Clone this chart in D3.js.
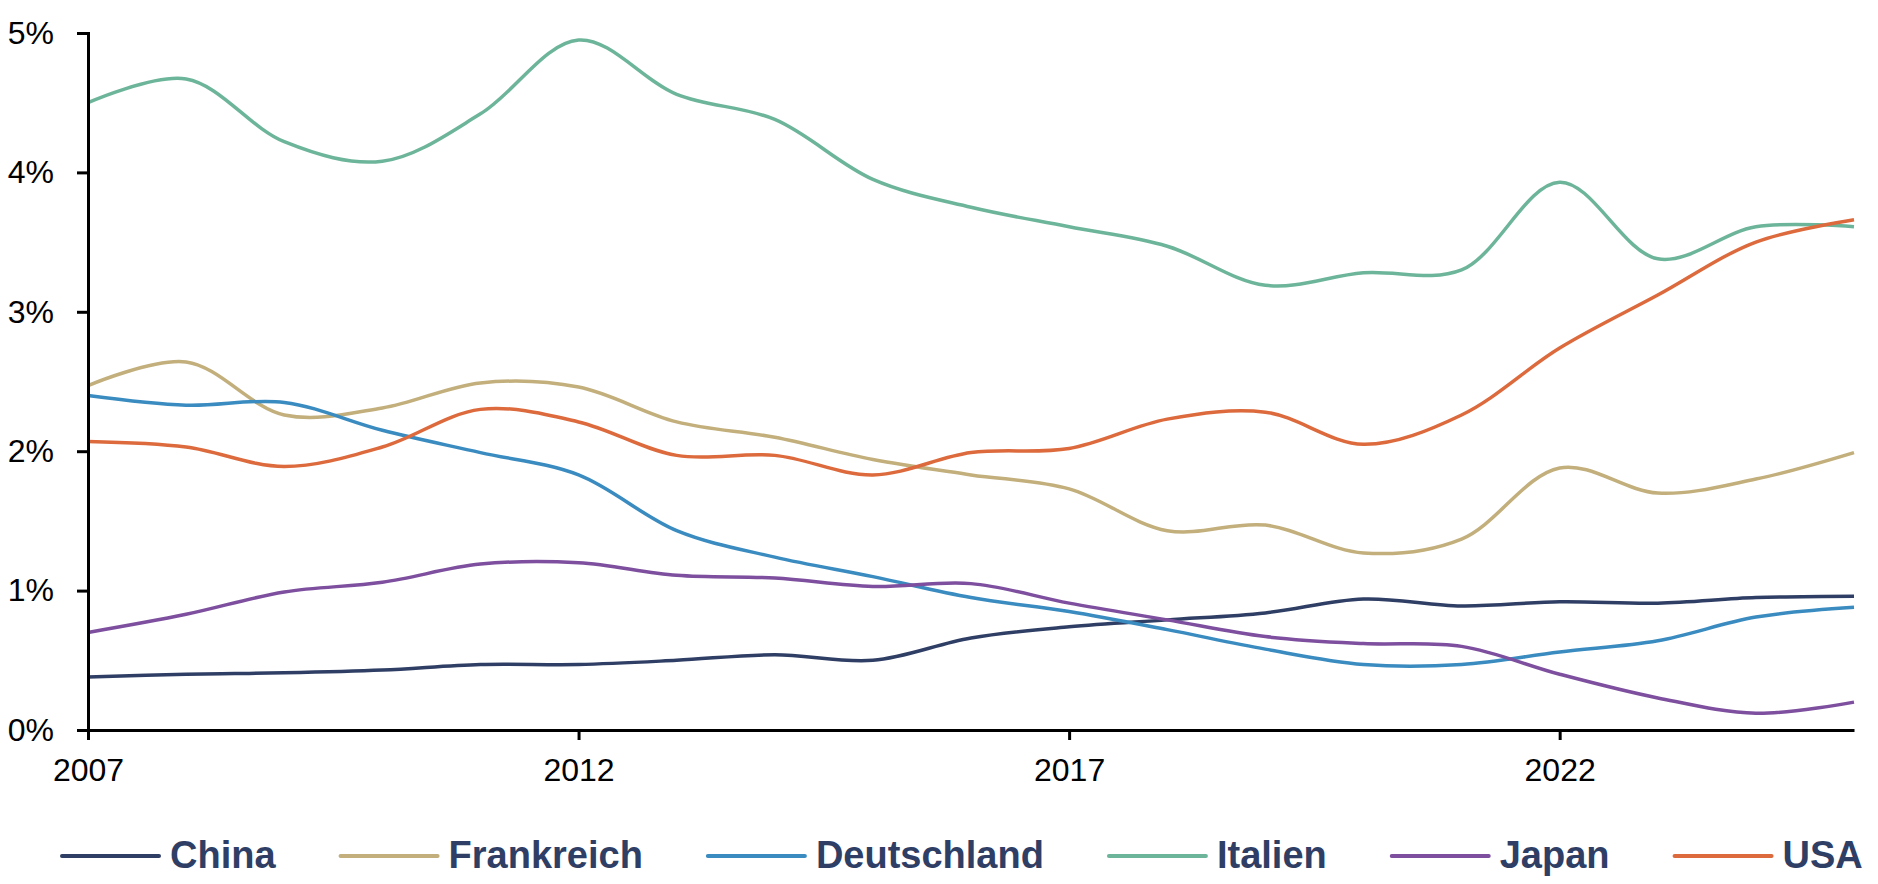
<!DOCTYPE html>
<html>
<head>
<meta charset="utf-8">
<script src="https://cdn.jsdelivr.net/npm/d3@7"></script>
<style>
  html, body { margin: 0; padding: 0; background: #fff; }
  svg { display: block; }
  text { font-family: "Liberation Sans", Arial, sans-serif; }
</style>
</head>
<body>
<svg id="chart" width="1878" height="884"></svg>
<script>
const years = [2007,2008,2009,2010,2011,2012,2013,2014,2015,2016,2017,2018,2019,2020,2021,2022,2023,2024,2025];
const xTickYears = [2007, 2012, 2017, 2022];
const yTicks = [0, 1, 2, 3, 4, 5];
const yTickLabels = ["0%", "1%", "2%", "3%", "4%", "5%"];

const seriesNames = ["China", "Frankreich", "Deutschland", "Italien", "Japan", "USA"];
const seriesColors = ["#2F3E64", "#C2AF7C", "#3A8BC0", "#6DB59A", "#7D4F9E", "#DC6A3C"];

const china       = [0.38,0.40,0.41,0.43,0.47,0.47,0.50,0.54,0.50,0.66,0.74,0.79,0.84,0.94,0.89,0.92,0.91,0.95,0.96];
const frankreich  = [2.47,2.64,2.26,2.31,2.49,2.46,2.21,2.10,1.94,1.83,1.73,1.43,1.47,1.27,1.37,1.88,1.70,1.80,1.99];
const deutschland = [2.40,2.33,2.35,2.15,1.99,1.83,1.43,1.24,1.10,0.95,0.85,0.72,0.58,0.47,0.47,0.56,0.64,0.81,0.88];
const italien     = [4.50,4.67,4.22,4.08,4.42,4.95,4.56,4.38,3.95,3.75,3.61,3.47,3.19,3.28,3.30,3.93,3.38,3.61,3.61];
const japan       = [0.70,0.83,0.99,1.06,1.19,1.20,1.11,1.09,1.03,1.05,0.91,0.79,0.67,0.62,0.60,0.40,0.23,0.12,0.20];
const usa         = [2.07,2.03,1.89,2.03,2.30,2.21,1.97,1.97,1.83,1.99,2.02,2.23,2.28,2.05,2.26,2.74,3.12,3.50,3.66];

const seriesValues = [china, frankreich, deutschland, italien, japan, usa];

const svg = d3.select("#chart");
const plotLeft = 88, plotRight = 1854, plotTop = 33, plotBottom = 730;

const x = d3.scaleLinear().domain([2007, 2025]).range([plotLeft, plotRight]);
const y = d3.scaleLinear().domain([0, 5]).range([plotBottom, plotTop]);

// series lines
const line = d3.line()
  .x((d, i) => x(years[i]))
  .y(d => y(d))
  .curve(d3.curveCatmullRom.alpha(0.5));

svg.append("g").selectAll("path")
  .data(seriesValues)
  .join("path")
  .attr("d", d => line(d))
  .attr("fill", "none")
  .attr("stroke", (d, i) => seriesColors[i])
  .attr("stroke-width", 3.5)
  .attr("stroke-linejoin", "round")
  .attr("stroke-linecap", "butt");

// y axis
const yAxis = d3.axisLeft(y)
  .tickValues(yTicks)
  .tickFormat((d, i) => yTickLabels[i])
  .tickSize(11)
  .tickPadding(23);
const gy = svg.append("g").attr("transform", `translate(${plotLeft},0)`).call(yAxis);
gy.select(".domain").attr("stroke", "#000").attr("stroke-width", 3);
gy.selectAll(".tick line").attr("stroke", "#000").attr("stroke-width", 3);
gy.selectAll(".tick text").attr("font-size", 32).attr("fill", "#000")
  .attr("font-family", "'Liberation Sans', Arial, sans-serif");

// x axis
const xAxis = d3.axisBottom(x)
  .tickValues(xTickYears)
  .tickFormat(d3.format("d"))
  .tickSize(10)
  .tickSizeOuter(0)
  .tickPadding(18);
const gx = svg.append("g").attr("transform", `translate(0,${plotBottom})`).call(xAxis);
gx.select(".domain").attr("stroke", "#000").attr("stroke-width", 3);
gx.selectAll(".tick line").attr("stroke", "#000").attr("stroke-width", 3);
gx.selectAll(".tick text").attr("font-size", 32).attr("fill", "#000")
  .attr("font-family", "'Liberation Sans', Arial, sans-serif");

// legend
const legend = svg.append("g");
let lx = 62;
const ly = 856;
seriesNames.forEach((name, i) => {
  const g = legend.append("g");
  g.append("line")
    .attr("x1", lx).attr("x2", lx + 97)
    .attr("y1", ly).attr("y2", ly)
    .attr("stroke", seriesColors[i])
    .attr("stroke-width", 4)
    .attr("stroke-linecap", "round");
  const t = g.append("text")
    .attr("x", lx + 108)
    .attr("y", 868)
    .attr("font-size", 38)
    .attr("font-weight", "bold")
    .attr("fill", "#2F3E64")
    .text(name);
  const w = t.node().getComputedTextLength();
  lx = lx + 108 + w + 65;
});
</script>
</body>
</html>
